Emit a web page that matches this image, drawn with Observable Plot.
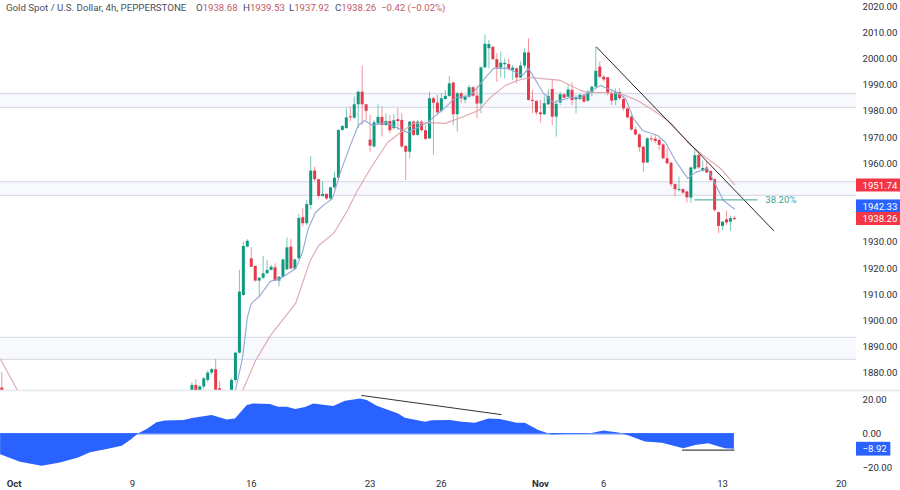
<!DOCTYPE html>
<html>
<head>
<meta charset="utf-8">
<script src="https://cdn.jsdelivr.net/npm/d3@7"></script>
<script src="https://cdn.jsdelivr.net/npm/@observablehq/plot@0.6"></script>
<style>
html,body{margin:0;padding:0;background:#fff;}
#root{position:relative;width:900px;height:490px;overflow:hidden;font-family:Roboto,sans-serif;}
#root svg{display:block;position:absolute;left:0;}
.lg{position:absolute;top:1px;height:14px;line-height:14px;font-size:9.7px;color:#4a4e59;white-space:pre;z-index:2;}
.lg b{font-weight:400;font-size:9.6px;color:#c25a68;}
</style>
</head>
<body>
<div id="root"></div>
<script>
const barIndex = [-33, ...d3.range(15, 153)];
const opens = [1874,
1872,1875,1872,1874.4,1876.9,1879.7,1881,1873.7,1872,1869,1873,1876.9,1887.3,1909.3,1927.8,
1923.3,1920.4,1914.8,1915.9,1917.6,1918.9,1919.9,1914.8,1916.3,1919.1,1927.8,1919.4,1923.3,1939,1936.7,
1943.7,1956.8,1953.5,1947.1,1947.9,1946.2,1950.4,1954.1,1972.3,1973,1977.5,1977,1982.1,1986.9,1982.1,
1968.6,1966,1974.8,1977.3,1974.2,1975.7,1973,1976.4,1976.1,1966.2,1964,1975.5,1970.4,1975.5,1972.2,
1969.1,1984.4,1982.7,1979.6,1984.1,1985.3,1990.4,1978.3,1986.3,1983.8,1985,1988.6,1985.4,1982.4,1996.2,
2003.5,2004,1999.3,1996.1,1997.4,1997.5,1995.2,1995.8,1992.3,1996.9,2001.9,1983.8,1983.4,1979,1978.3,
1982.1,1987.9,1977.4,1982.8,1985.9,1985,1987.6,1984,1984.1,1985.7,1983.5,1986.7,1988.8,1996.5,1992.6,
1992.4,1986.3,1983.7,1986.7,1984.1,1980.5,1977.4,1972.5,1970.6,1965.9,1959.9,1969.1,1969,1968.5,1966.8,
1961.5,1959.8,1951.6,1949.4,1949.7,1948.8,1946.5,1957.5,1962.7,1956.8,1958,1956.6,1953.5,1940.9,1935.7,
1938.2,1937.3,1938.68];
const highs = [1879.9,
1876,1877.2,1875,1878,1880.5,1881.5,1884.8,1876.3,1873,1871,1877.5,1887.7,1918.9,1929.7,1930.6,
1927.5,1920.6,1916.1,1924.2,1922.7,1920.8,1921.4,1916.5,1923.1,1931.3,1930.6,1923.2,1940.2,1942.4,1945.6,
1962.4,1958.3,1953.7,1952.6,1948.1,1950.6,1956.4,1972.6,1974.2,1980.6,1981.2,1985,1987.3,1996.8,1982.3,
1978,1976.1,1982.1,1981.2,1978.7,1978,1978.3,1980.6,1978.7,1966.5,1975.7,1976,1976.1,1976.1,1974.2,
1986.9,1985,1985.7,1986.3,1987.6,1993,1990.7,1986.9,1986.9,1985.7,1989.5,1989,1988.8,1996.5,2008.8,
2006.6,2004.5,2001.6,2002.2,1999.6,1999.6,1997.1,1996.2,1998.4,2003.5,2007.3,1987.6,1983.6,1983.8,1985,
1987.8,1991.4,1983.7,1986.9,1986.3,1989.5,1990.4,1985.7,1986.3,1986,1987.6,1989.2,2004.1,1998.4,1993.3,
1992.6,1987.6,1988.2,1988.2,1985,1980.8,1978,1973.5,1971,1966.2,1969.5,1970.4,1970.4,1969.1,1967.2,
1965.3,1960.2,1952,1954.5,1950,1949.2,1958.3,1965.3,1963.4,1960.6,1960.2,1957,1953.9,1941.1,1937.5,
1941.5,1939.5,1939.53];
const lows = [1872,
1870,1870,1871,1873.5,1876,1879,1872,1871,1868,1866,1871,1876,1887,1909,1927.5,
1920,1914.4,1908.4,1915.4,1917.4,1918.7,1914.6,1912.5,1916,1918.9,1919.2,1919,1923,1935.4,1936,
1942,1952.5,1946.2,1946.9,1945.6,1945.5,1950,1953.8,1972,1972.8,1975.5,1976.5,1973,1974.2,1976.1,
1964,1965.5,1974.5,1969.8,1973.8,1971,1972.5,1972.3,1965.5,1953.2,1961.5,1970,1970.1,1971.8,1968.5,
1968.8,1962.8,1978.3,1979,1984,1985,1974.2,1971.7,1982.5,1982.5,1984.6,1985,1976.8,1978.7,1996,
1995.8,1999,1990.7,1992.3,1992,1995,1991.4,1990.1,1992,1995.8,1983.4,1978.7,1978,1975.1,1978,
1981.8,1974.2,1969.8,1981.8,1984.2,1984.6,1981.8,1978.7,1983.8,1982.8,1983,1985,1988.2,1992,1990.8,
1985.5,1981.8,1981.8,1983.8,1979.7,1976.8,1972,1970.2,1964,1956.4,1959.7,1967.8,1967.2,1964.7,1961.1,
1959.2,1950.7,1947.1,1948.8,1947.8,1944.6,1944.6,1957,1957.5,1956.4,1955.8,1952.8,1941.1,1932.9,1934.1,
1936,1933.9,1937.92];
const closes = [1872,
1875,1873,1874.4,1877.5,1879.7,1881,1873.1,1872,1869,1870,1876.9,1887.3,1910.6,1928,1930,
1920.1,1914.8,1915.9,1917.6,1918.9,1920.1,1914.8,1916.3,1922.9,1927.5,1919.4,1922.9,1938.7,1936.7,1944,
1956.8,1953.5,1947.1,1947.9,1946.2,1950.4,1954.1,1972.3,1973.8,1977.1,1977.1,1982.1,1986.9,1982.1,1979.6,
1966.3,1975.2,1977.3,1974.2,1975.7,1972.2,1976,1975.7,1966,1964,1975.5,1970.4,1975.5,1972.2,1968.9,
1984.4,1982.7,1979,1984.4,1985.3,1990.1,1978.3,1986.3,1984.4,1985,1988.6,1985.4,1982.4,1996.2,2005.2,
2005.1,1999.3,1996.1,1998,1997.9,1995.6,1996.1,1992.3,1996.9,2001.9,1983.8,1983.4,1979,1978.3,1982.5,
1985.3,1977.4,1982.3,1985.9,1984.6,1987.8,1983.7,1984.8,1985.7,1983.1,1986.9,1988.8,1994.9,1992.6,1991.6,
1986.3,1983.5,1986.7,1984.4,1980.5,1977.1,1972.5,1970.6,1965.7,1959.8,1969.1,1968.7,1968.1,1966.6,1961.5,
1959.6,1951.6,1949.7,1949.8,1948.4,1946.6,1958,1962.7,1958,1957.8,1956.1,1953.2,1941.8,1935.7,1937.3,
1937,1938.6,1938.26];

const fastX = [26,27.8,29,30,32,34.8,37.4,41.2,42.9,44.4,46.2,48.2,50.5,52.5,55,57,58.6,60.6,63.9,69.4,74.5,79.5,81.6,85.4,89.6,91.2,94.7,98.5,100,102.3,103.8,106.3,110.6,113.1,116.2,118.2,120,122.5,124.5,126.5,128.8,132.6,134.6,137.1,140.2,142.2,145.2,146.7,149.2,152];
const fastY = [1873.1,1885.6,1900.9,1906.3,1908.9,1914.7,1915.8,1919.6,1925.7,1934.9,1941,1943.7,1946.3,1956.3,1966.6,1974.2,1976.1,1974.2,1975.3,1971.5,1975.3,1981.8,1984.9,1985.6,1993.3,1996,1996,1993.3,1996,1990.2,1986.4,1983,1984.9,1984.9,1987.6,1989.5,1988.3,1986.8,1984.5,1976.9,1972.3,1970.4,1967.7,1960.8,1954,1956.3,1957.8,1953.2,1945.6,1942.33];
const slowX = [-33.3,-29,-20,15,27.8,31.1,34.8,41.2,44.9,47,50.8,54.3,56.8,60.1,64.4,67.7,71,75.3,79,83.6,87.4,90.4,94.2,97.2,100.5,105.6,108.1,113.1,114.9,118.9,123.2,127.5,131.6,135.9,140.2,144.2,148.5,152];
const slowY = [1884.9,1873,1862,1858,1873,1884.5,1894,1906.3,1922.7,1928.4,1933,1941.8,1949.4,1957.8,1967.7,1971.5,1975,1975.3,1975,1977.6,1979.9,1984.9,1989.5,1991.4,1992.5,1991.8,1991.4,1987.6,1986.8,1986.8,1986.4,1983.7,1979.9,1975.3,1967.7,1962.7,1957.8,1951.74];

const zoneTop = [1986.4,1952.8,1893.3];
const zoneBottom = [1981.1,1947.5,1884.9];
const trendBars = [117.2,161.9];
const trendPrices = [2004.1,1934.1];
const fibBars = [142,158];
const fibPrice = 1945.8;
const fibLabel = "38.20%";

const oscX = [-33.3,-28.3,-22.8,-18.2,-13.6,-10.6,-6.4,-2.6,-0.5,1.6,3.7,6.2,8.3,13,15.5,20.1,23.9,26,29,30.6,34.8,36.9,39.1,41.2,43.7,45.8,50.8,53.8,57.6,59.3,61.8,67.2,68.9,74,75.7,80.3,83.3,86.6,90,92.9,97.1,99.2,102.6,106,110.6,115.2,119,123.2,125.8,129.5,133.8,139.2,142.2,145.5,149.7,152];
const oscY = [-12.2,-16.5,-18.8,-16.9,-14.1,-11,-9.1,-7.2,-3.9,0,2.5,6.4,7.4,7.8,9.1,10.7,8.1,8.7,16.5,17.4,17.1,15.5,15.5,14.1,15.3,17.4,15.9,19,20.3,19.4,16.1,11.6,9.1,6.8,7.6,7.8,6.8,6.2,8.7,8.3,6.2,6.2,1.9,-0.6,-0.2,-0.2,1.7,0.4,-1.6,-4.8,-5.4,-8.7,-6.8,-5.8,-8.7,-8.92];
const divUpBars = [57.9,93.1];
const divUpValues = [22.3,11.2];
const divDownBars = [138.9,151.9];
const divDownValues = [-9.4,-9.4];

const priceTicks = [1880,1890,1900,1910,1920,1930,1960,1970,1980,1990,2000,2010,2020];
const oscTicks = [20,0,-20];
const monthTicks = [-29.9,103];
const monthLabels = ["Oct","Nov"];
const dayTicks = [0,30,60,78,119,149,179];
const dayLabels = ["9","16","23","26","6","13","20"];

const legendParts = [
  ["Gold Spot / U.S. Dollar, 4h, PEPPERSTONE",6],
  ["O<b>1938.68</b>",196],["H<b>1939.53</b>",243],["L<b>1937.92</b>",289],["C<b>1938.26</b>",335],
  ["<b>\u22120.42 (\u22120.02%)</b>",381]
];

const badgeBars = [182.83,193.94];
const badgeCenters = [1951.3,1943.3,1938.5];
const badgeLabels = ["1951.74","1942.33","1938.26"];
const badgeColors = ["#f23645","#2962ff","#f23645"];
const oscBadgeBars = [182.83,191.5];
const oscBadgeValue = -8.92;

const UP = "#0f9a80", DOWN = "#e53a4c", FAST = "#93a8d3", SLOW = "#e0a6ae";
const FONT = 'Roboto,sans-serif';
const FSIZE = "9.6px";
const AXIS = "#2a2e39";
const xDomain = [-33.33,182.83];

const bars = barIndex.map((i,k)=>({i,o:opens[k],h:highs[k],l:lows[k],c:closes[k]}));
const rising = d=>d.c>=d.o, falling = d=>d.c<d.o;
const zones = zoneTop.map((t,k)=>({t,b:zoneBottom[k]}));
const toRows = (xs,ys)=>xs.map((x,k)=>({x,y:ys[k]}));
const badges = badgeCenters.map((c,k)=>({c,label:badgeLabels[k],color:badgeColors[k]}));
const f2 = d3.format(".2f");

const main = Plot.plot({
  width:900,height:390,marginTop:0,marginBottom:0,marginLeft:0,marginRight:44,
  style:{background:"transparent",fontFamily:FONT,fontSize:FSIZE,overflow:"visible"},
  x:{domain:xDomain,axis:null},
  y:{domain:[1873.05,2021.9]},
  color:{type:"identity"},
  marks:[
    Plot.rect(zones,{x1:xDomain[0],x2:xDomain[1],y1:"b",y2:"t",fill:"#f7f9fd"}),
    Plot.ruleY(zones,{y:"t",x1:xDomain[0],x2:xDomain[1],stroke:"#d9deea",strokeWidth:1.3}),
    Plot.ruleY(zones,{y:"b",x1:xDomain[0],x2:xDomain[1],stroke:"#d9deea",strokeWidth:1.3}),
    Plot.axisY({anchor:"right",ticks:priceTicks,tickSize:0,tickPadding:6,dy:1,tickFormat:f2,label:null,fill:AXIS}),
    Plot.ruleX(bars,{filter:rising,x:"i",y1:"l",y2:"h",stroke:UP,strokeOpacity:.55,strokeWidth:1,clip:true}),
    Plot.ruleX(bars,{filter:falling,x:"i",y1:"l",y2:"h",stroke:DOWN,strokeOpacity:.55,strokeWidth:1,clip:true}),
    Plot.ruleX(bars,{filter:rising,x:"i",y1:"o",y2:"c",stroke:UP,strokeWidth:3,clip:true}),
    Plot.ruleX(bars,{filter:falling,x:"i",y1:"o",y2:"c",stroke:DOWN,strokeWidth:3,clip:true}),
    Plot.line(toRows(slowX,slowY),{x:"x",y:"y",stroke:SLOW,strokeWidth:1.1,clip:true}),
    Plot.line(toRows(fastX,fastY),{x:"x",y:"y",stroke:FAST,strokeWidth:1.1,clip:true}),
    Plot.line(toRows(trendBars,trendPrices),{x:"x",y:"y",stroke:"#262626",strokeWidth:1}),
    Plot.ruleY([fibPrice],{x1:fibBars[0],x2:fibBars[1],stroke:"#3fa596",strokeWidth:1}),
    Plot.text([fibLabel],{x:159.8,y:fibPrice,text:d=>d,textAnchor:"start",fill:"#3fa596"}),
    Plot.rect(badges,{x1:badgeBars[0],x2:badgeBars[1],y1:d=>d.c-2.48,y2:d=>d.c+2.48,fill:"color"}),
    Plot.text(badges,{x:badgeBars[0],dx:6,y:"c",text:"label",textAnchor:"start",fill:"white"})
  ]
});
main.style.top="0px";

const osc = Plot.plot({
  width:900,height:100,marginTop:0,marginBottom:20,marginLeft:0,marginRight:44,
  style:{background:"transparent",fontFamily:FONT,fontSize:FSIZE,overflow:"visible"},
  x:{domain:xDomain,axis:null},
  y:{domain:[-21.3,25.2]},
  marks:[
    Plot.ruleY([25.2],{x1:xDomain[0],x2:badgeBars[1],stroke:"#e6e8ee",strokeWidth:1.5}),
    Plot.areaY(toRows(oscX,oscY),{x:"x",y1:0,y2:"y",fill:"#2962ff"}),
    Plot.ruleY([0],{x1:xDomain[0],x2:152,stroke:"#2962ff",strokeWidth:1}),
    Plot.line(toRows(divUpBars,divUpValues),{x:"x",y:"y",stroke:"#333",strokeWidth:1}),
    Plot.line(toRows(divDownBars,divDownValues),{x:"x",y:"y",stroke:"#444",strokeWidth:1.2}),
    Plot.axisY({anchor:"right",ticks:oscTicks,tickSize:0,tickPadding:6,tickFormat:f2,label:null,fill:AXIS}),
    Plot.rect([oscBadgeValue],{x1:oscBadgeBars[0],x2:oscBadgeBars[1],y1:d=>d-4,y2:d=>d+4,fill:"#2962ff"}),
    Plot.text([oscBadgeValue],{x:oscBadgeBars[0],dx:6,y:d=>d,text:f2,textAnchor:"start",fill:"white"}),
    Plot.axisX({anchor:"bottom",ticks:dayTicks,tickSize:0,tickPadding:10,tickFormat:d=>dayLabels[dayTicks.indexOf(d)],label:null,fill:AXIS}),
    Plot.axisX({anchor:"bottom",ticks:monthTicks,tickSize:0,tickPadding:10,tickFormat:d=>monthLabels[monthTicks.indexOf(d)],label:null,fill:AXIS,fontWeight:700})
  ]
});
osc.style.top="390px";

const root = document.getElementById("root");
root.append(main,osc);
for (const [html,left] of legendParts) {
  const el = document.createElement("div");
  el.className = "lg";
  el.style.left = left+"px";
  el.innerHTML = html;
  root.append(el);
}
</script>
</body>
</html>
